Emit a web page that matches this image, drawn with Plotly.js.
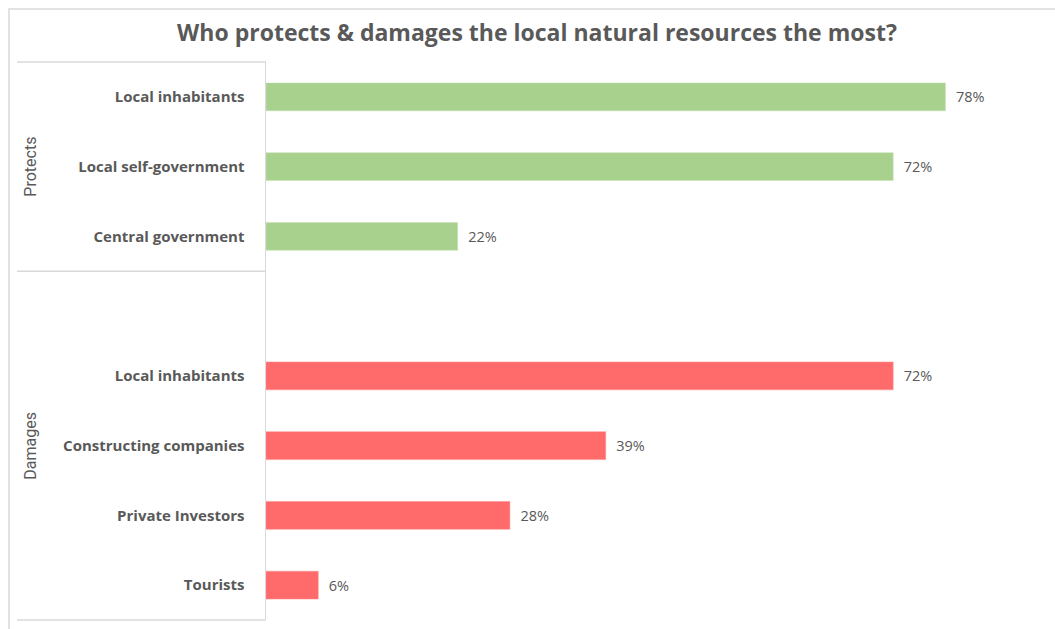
<!DOCTYPE html>
<html>
<head>
<meta charset="utf-8">
<script src="https://cdn.plot.ly/plotly-3.0.1.min.js"></script>
<style>html,body{margin:0;padding:0;background:#fff;}#chart{width:1055px;height:629px;}</style>
</head>
<body>
<div id="chart"></div>
<script>
// ---- data ----
const chartTitle = "Who protects & damages the local natural resources the most?";
const groupNames = ["Protects", "Damages"];
const protectsLabels = ["Local inhabitants", "Local self-government", "Central government"];
const protectsValues = [78, 72, 22];
const damagesLabels = ["Local inhabitants", "Constructing companies", "Private Investors", "Tourists"];
const damagesValues = [72, 39, 28, 6];

// ---- layout helpers (pixel -> paper) ----
const W = 1055, H = 629;
const L = 266, R = 1050, T = 62, B = 620;
const px2x = p => (p - L) / (R - L);
const py2y = p => (B - p) / (B - T);

const textCol = '#595959';
const lineCol = '#d9d9d9';
const baseFont = 'Open Sans, Lato, sans-serif';

const traces = [
  {
    type: 'bar', orientation: 'h',
    y: protectsLabels, x: protectsValues,
    xaxis: 'x', yaxis: 'y',
    width: 0.4,
    marker: {color: '#a9d18e', line: {color: '#c5e0b4', width: 0.5}},
    texttemplate: '  %{x}%', textposition: 'outside', cliponaxis: false,
    textfont: {family: baseFont, size: 14.5, color: textCol},
    hoverinfo: 'skip', showlegend: false
  },
  {
    type: 'bar', orientation: 'h',
    y: damagesLabels, x: damagesValues,
    xaxis: 'x', yaxis: 'y2',
    width: 0.4,
    marker: {color: '#ff6b6b', line: {color: '#ff8f8f', width: 0.5}},
    texttemplate: '  %{x}%', textposition: 'outside', cliponaxis: false,
    textfont: {family: baseFont, size: 14.5, color: textCol},
    hoverinfo: 'skip', showlegend: false
  }
];

const yCommon = {
  type: 'category',
  showline: true, linecolor: lineCol, linewidth: 1.5,
  showgrid: false, zeroline: false,
  ticks: 'outside', ticklen: 17, tickcolor: 'rgba(0,0,0,0)',
  tickfont: {family: baseFont, size: 15, color: textCol, weight: 'bold'},
  anchor: 'x', fixedrange: true
};

const layout = {
  width: W, height: H,
  margin: {l: L, r: W - R, t: T, b: H - B, pad: 0},
  paper_bgcolor: '#ffffff', plot_bgcolor: '#ffffff',
  title: {
    text: chartTitle,
    font: {family: baseFont, size: 23, color: textCol, weight: 'bold'},
    x: 0.509, xref: 'container', xanchor: 'center',
    y: 1 - 33 / H, yref: 'container', yanchor: 'middle'
  },
  xaxis: {range: [0, 90], visible: false, showgrid: false, zeroline: false, fixedrange: true},
  yaxis: Object.assign({}, yCommon, {
    domain: [0.625, 1],
    categoryarray: protectsLabels, categoryorder: 'array',
    range: [protectsLabels.length - 0.5, -0.5]
  }),
  yaxis2: Object.assign({}, yCommon, {
    domain: [0, 0.625],
    categoryarray: damagesLabels, categoryorder: 'array',
    range: [damagesLabels.length - 0.5, -1.5]
  }),
  annotations: [
    {text: groupNames[0], xref: 'paper', yref: 'y domain', x: px2x(31), y: 0.5,
     textangle: -90, showarrow: false, xanchor: 'center', yanchor: 'middle',
     font: {family: 'Liberation Sans Narrow, Roboto, sans-serif', size: 16, color: textCol}},
    {text: groupNames[1], xref: 'paper', yref: 'y2 domain', x: px2x(31), y: 0.5,
     textangle: -90, showarrow: false, xanchor: 'center', yanchor: 'middle',
     font: {family: 'Liberation Sans Narrow, Roboto, sans-serif', size: 16, color: textCol}}
  ],
  shapes: [
    // outer chart border (left & top)
    {type: 'path', xref: 'paper', yref: 'paper',
     path: `M ${px2x(9)} ${py2y(640)} L ${px2x(9)} ${py2y(9)} L ${px2x(1060)} ${py2y(9)}`,
     line: {color: lineCol, width: 1.5}},
    // category bracket lines
    {type: 'line', xref: 'paper', yref: 'paper', x0: px2x(17), x1: 0, y0: 1, y1: 1,
     line: {color: lineCol, width: 1.5}},
    {type: 'line', xref: 'paper', yref: 'paper', x0: px2x(17), x1: 0, y0: 0.625, y1: 0.625,
     line: {color: lineCol, width: 1.5}},
    {type: 'line', xref: 'paper', yref: 'paper', x0: px2x(17), x1: 0, y0: 0, y1: 0,
     line: {color: lineCol, width: 1.5}}
  ]
};

Plotly.newPlot('chart', traces, layout, {displayModeBar: false, staticPlot: true});
</script>
</body>
</html>
